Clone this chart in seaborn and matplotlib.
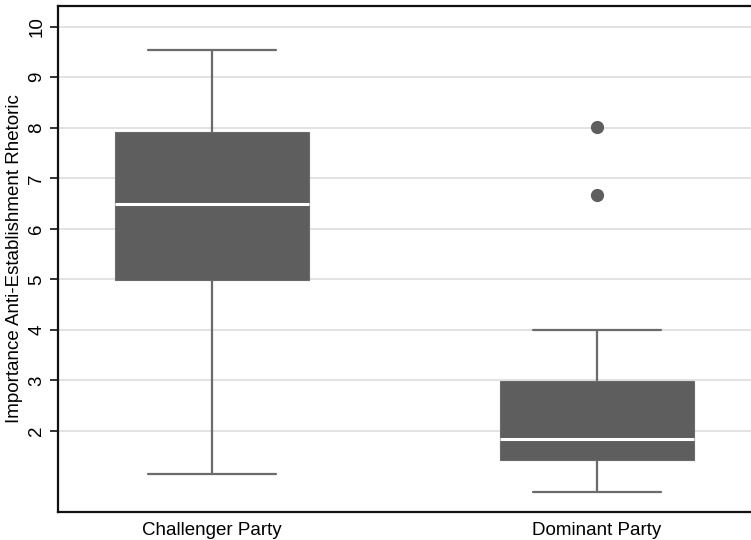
import pandas as pd
import seaborn as sns
import matplotlib.pyplot as plt

# values (five-number summaries + outliers)
challenger = [1.16, 4.98, 6.49, 7.92, 9.54]
dominant = [0.79, 1.1, 1.3, 1.42, 1.6, 1.7, 1.84, 2.2, 2.6, 2.99, 4.0, 6.67, 8.01]
groups = ["Challenger Party", "Dominant Party"]
yticks = [2, 3, 4, 5, 6, 7, 8, 9, 10]

df = pd.DataFrame({
    "party": [groups[0]] * len(challenger) + [groups[1]] * len(dominant),
    "score": challenger + dominant,
})

sns.set_style("white")
plt.rcParams['font.family'] = ['Liberation Sans', 'DejaVu Sans']
plt.rcParams['font.size'] = 13.5
plt.rcParams['text.color'] = 'black'
plt.rcParams['axes.labelcolor'] = 'black'
plt.rcParams['xtick.color'] = 'black'
plt.rcParams['ytick.color'] = 'black'

fig = plt.figure(figsize=(7.51, 5.40), dpi=100)
ax = fig.add_axes([0.0772, 0.052, 0.9228, 0.937])

box_col = "#5e5e5e"
line_col = "#6b6b6b"
sns.boxplot(data=df, x="party", y="score", order=groups, ax=ax,
            width=0.505, color=box_col, saturation=1, linewidth=1.4,
            capwidths=0.33,
            boxprops=dict(facecolor=box_col, edgecolor=line_col, linewidth=0.8),
            medianprops=dict(color="white", linewidth=2.2),
            whiskerprops=dict(color=line_col, linewidth=1.6),
            capprops=dict(color=line_col, linewidth=1.6),
            flierprops=dict(marker="o", markersize=8.5, markerfacecolor=box_col,
                            markeredgecolor=box_col))

ax.set_xlim(-0.40, 1.40)
ax.set_ylim(0.40, 10.41)
ax.set_yticks(yticks)
ax.set_yticklabels([str(t) for t in yticks], rotation=90, va="center")
ax.yaxis.grid(True, color="#e2e2e2", linewidth=1.4)
ax.set_axisbelow(True)
ax.set_xlabel("")
ax.set_ylabel("Importance Anti-Establishment Rhetoric", fontsize=13.5, labelpad=4)

for side in ["left", "bottom", "top"]:
    ax.spines[side].set_color("#111111")
    ax.spines[side].set_linewidth(1.6)
ax.spines["right"].set_visible(False)
ax.tick_params(axis="y", which="major", direction="out", length=6, width=1.2,
               color="#111111", labelcolor="black", left=True, pad=3,
               labelsize=13.5)
ax.tick_params(axis="x", which="major", length=0, pad=7, labelcolor="black",
               labelsize=13.5)

fig.savefig("out.png", dpi=100)
